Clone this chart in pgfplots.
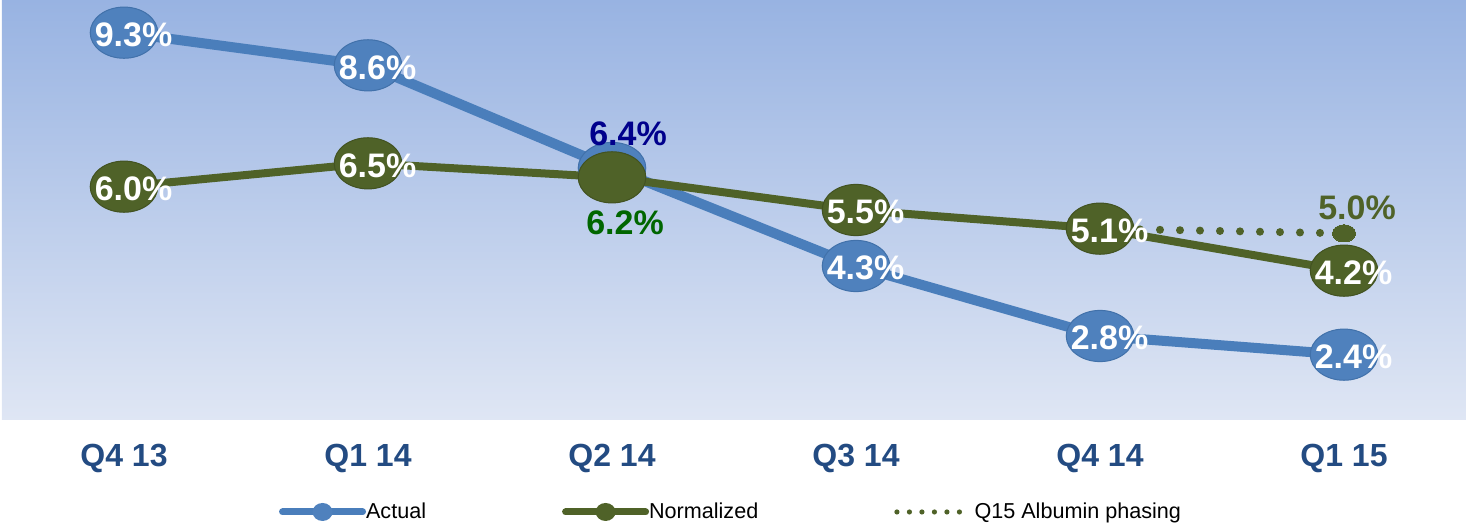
\documentclass[border=0pt]{standalone}
\usepackage{pgfplots}
\pgfplotsset{compat=1.18}
\usepackage{fontspec}
\setmainfont{Liberation Sans}

\definecolor{actline}{RGB}{74,126,187}
\definecolor{actfill}{RGB}{79,129,189}
\definecolor{actedge}{RGB}{65,113,170}
\definecolor{normline}{RGB}{79,98,40}
\definecolor{normedge}{RGB}{66,82,33}
\definecolor{bgtop}{RGB}{152,179,226}
\definecolor{bgbot}{RGB}{223,230,244}
\definecolor{ticktext}{RGB}{35,75,130}
\definecolor{navylbl}{RGB}{0,0,140}
\definecolor{greenlbl}{RGB}{0,102,0}

\pgfplotsset{
  pct label/.style={
    nodes near coords={\pgfmathprintnumber[fixed,fixed zerofill,precision=1]{\pgfplotspointmeta}\%},
    point meta=y, draw=none, mark=none, forget plot,
    nodes near coords align={anchor=center},
    every node near coord/.append style={anchor=center, font=\fontsize{17}{20}\selectfont\bfseries},
  },
}

\begin{document}
\begin{tikzpicture}
\begin{axis}[
  scale only axis, width=732pt, height=210pt,
  xmin=-0.5, xmax=5.5, ymin=1, ymax=10,
  axis line style={draw=none},
  axis background/.style={top color=bgtop, bottom color=bgbot},
  xtick={0,...,5},
  xticklabels={Q4 13,Q1 14,Q2 14,Q3 14,Q4 14,Q1 15},
  major tick length=0pt,
  ytick=\empty,
  xticklabel style={font=\fontsize{16}{19}\selectfont\bfseries, text=ticktext, yshift=-8.5pt},
  /pgf/number format/assume math mode=true,
  legend columns=3,
  legend style={draw=none, fill=none, at={(0.4973,-0.219)}, anchor=center,
    font=\fontsize{10.8}{12}\selectfont, nodes={inner sep=0pt},
    /tikz/every even column/.append style={column sep=68pt}},
  clip=false,
]
% Actual
\addplot[actline, line width=5pt, mark=*, mark size=12.8pt,
  mark options={xscale=1.32, fill=actfill, draw=actedge, line width=0.5pt},
  legend image code/.code={
    \draw[actline, line width=3.5pt, line cap=round] (0pt,0pt) -- (40pt,0pt);
    \path[fill=actfill, draw=none] (20pt,0pt) ellipse (5pt and 4.5pt);}]
  coordinates {(0,9.3) (1,8.6) (2,6.4) (3,4.3) (4,2.8) (5,2.4)};
\addlegendentry{Actual}
% Normalized
\addplot[normline, line width=4pt, mark=*, mark size=12.8pt,
  mark options={xscale=1.32, fill=normline, draw=normedge, line width=0.5pt},
  legend image code/.code={
    \draw[normline, line width=3.5pt, line cap=round] (0pt,0pt) -- (40pt,0pt);
    \path[fill=normline, draw=none] (20pt,0pt) ellipse (5pt and 4.5pt);}]
  coordinates {(0,6.0) (1,6.5) (2,6.2) (3,5.5) (4,5.1) (5,4.2)};
\addlegendentry{Normalized}
% Q15 Albumin phasing
\addplot[normline, line width=4pt, line cap=round, dash pattern=on 0pt off 10pt,
  mark=*, mark indices={2}, mark size=4.3pt,
  mark options={solid, xscale=1.35, fill=normline, draw=normline, line width=0pt},
  legend image code/.code={
    \draw[normline, line width=2.6pt, line cap=round, dash pattern=on 0pt off 6.25pt] (0pt,0pt) -- (37.5pt,0pt);}]
  coordinates {(4,5.1) (5,5.0)};
\addlegendentry{Q15 Albumin phasing}

% data labels
\addplot[pct label, every node near coord/.append style={text=white, xshift=4.75pt, yshift=-1pt}]
  coordinates {(0,9.3) (1,8.6) (3,4.3) (4,2.8) (5,2.4)};
\addplot[pct label, every node near coord/.append style={text=white, xshift=4.75pt, yshift=-1pt}]
  coordinates {(0,6.0) (1,6.5) (3,5.5) (4,5.1) (5,4.2)};
\addplot[pct label, every node near coord/.append style={text=navylbl, xshift=8pt, yshift=17pt}]
  coordinates {(2,6.4)};
\addplot[pct label, every node near coord/.append style={text=greenlbl, xshift=6.5pt, yshift=-22.5pt}]
  coordinates {(2,6.2)};
\addplot[pct label, every node near coord/.append style={text=normline, xshift=6.5pt, yshift=13pt}]
  coordinates {(5,5.0)};
\end{axis}
\pgfresetboundingbox
\path ([xshift=-1pt,yshift=-53.5pt]current axis.south west) rectangle (current axis.north east);
\end{tikzpicture}
\end{document}
